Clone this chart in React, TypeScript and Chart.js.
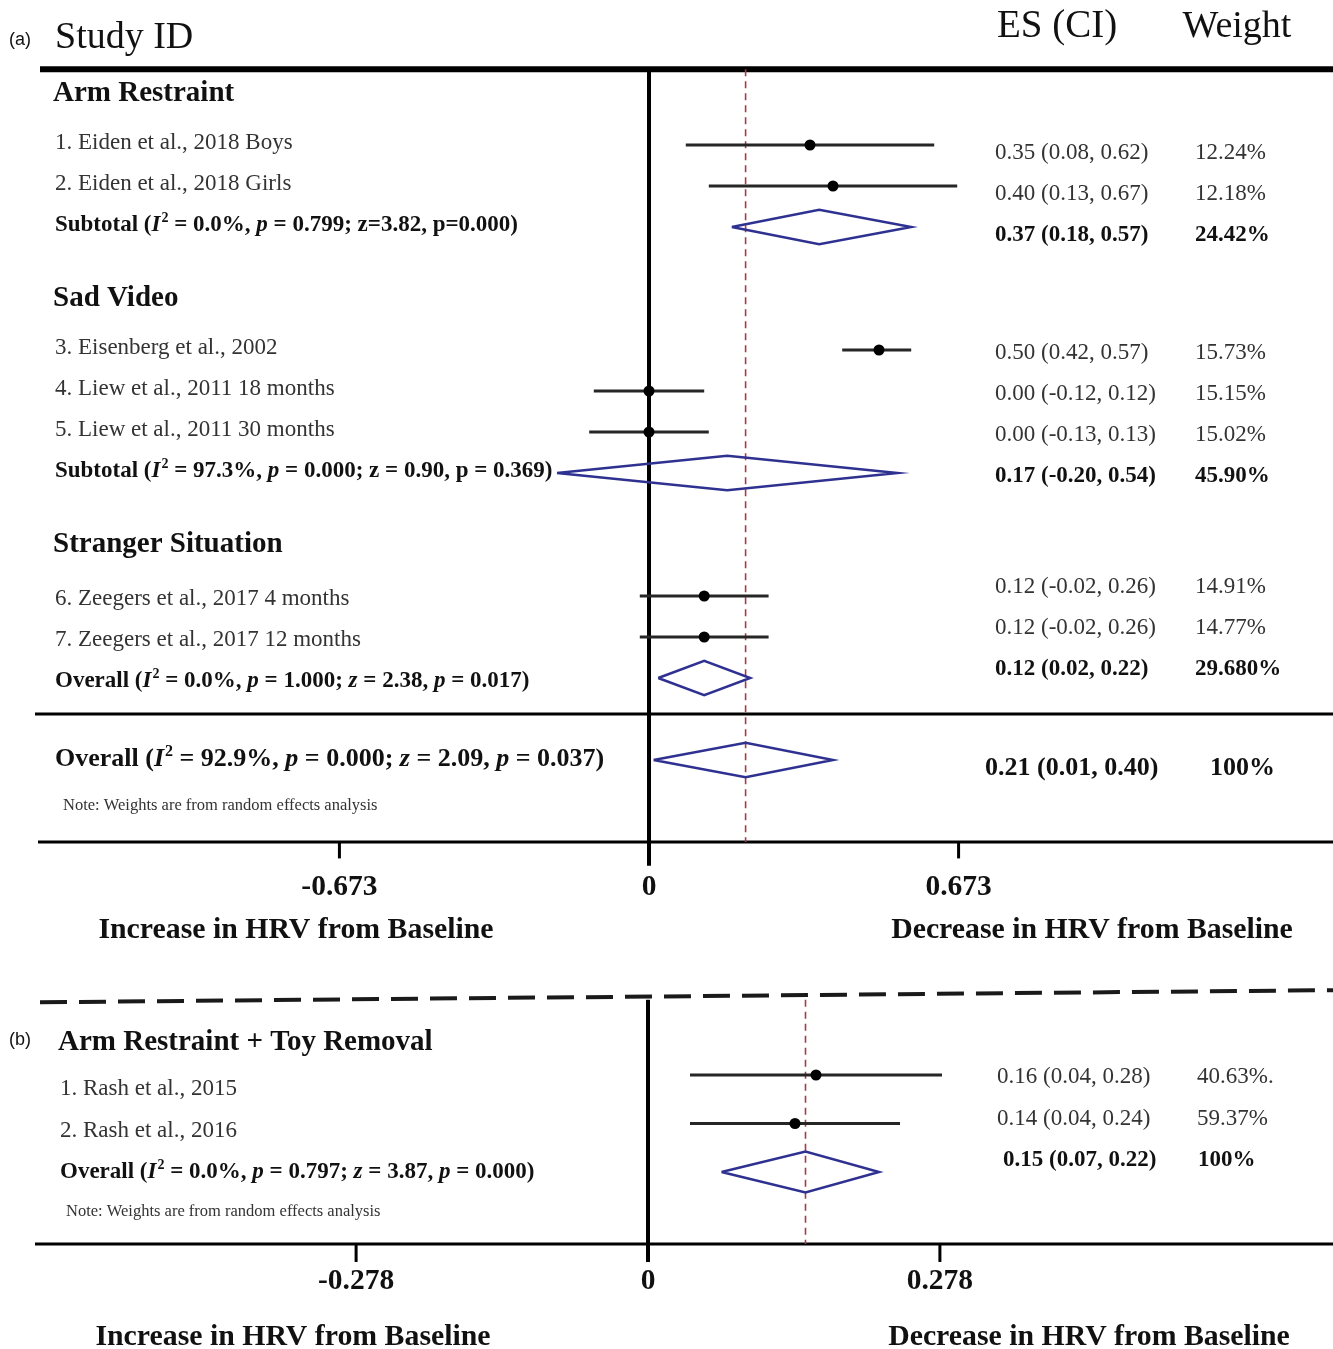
import { useEffect, useRef } from 'react';
import { Chart, registerables } from 'chart.js';

Chart.register(...registerables);

// ---------- Panel (a): HRV change by stressor paradigm ----------
const groupNamesA = ['Arm Restraint', 'Sad Video', 'Stranger Situation'];
const studyLabelsA = [
  '1. Eiden et al., 2018 Boys',
  '2. Eiden et al., 2018 Girls',
  '3. Eisenberg et al., 2002',
  '4. Liew et al., 2011 18 months',
  '5. Liew et al., 2011 30 months',
  '6. Zeegers et al., 2017 4 months',
  '7. Zeegers et al., 2017 12 months',
];
const studyGroupA = [0, 0, 1, 1, 1, 2, 2];
const studyEsA = [0.35, 0.4, 0.5, 0.0, 0.0, 0.12, 0.12];
const studyLowA = [0.08, 0.13, 0.42, -0.12, -0.13, -0.02, -0.02];
const studyHighA = [0.62, 0.67, 0.57, 0.12, 0.13, 0.26, 0.26];
const studyWeightA = ['12.24%', '12.18%', '15.73%', '15.15%', '15.02%', '14.91%', '14.77%'];

const groupEsA = [0.37, 0.17, 0.12];
const groupLowA = [0.18, -0.2, 0.02];
const groupHighA = [0.57, 0.54, 0.22];
const groupWeightA = ['24.42%', '45.90%', '29.680%'];
// '*' toggles italic, '^' raises the next character
const groupStatsA = [
  'Subtotal (*I*^2 = 0.0%, *p* = 0.799; z=3.82, p=0.000)',
  'Subtotal (*I*^2 = 97.3%, *p* = 0.000; z = 0.90, p = 0.369)',
  'Overall (*I*^2 = 0.0%, *p* = 1.000; *z* = 2.38, *p* = 0.017)',
];

const overallEsA = 0.21;
const overallLowA = 0.01;
const overallHighA = 0.4;
const overallWeightA = '100%';
const overallStatsA = 'Overall (*I*^2 = 92.9%, *p* = 0.000; *z* = 2.09, *p* = 0.037)';
const ticksA = [-0.673, 0, 0.673];

// ---------- Panel (b): arm restraint + toy removal ----------
const groupNameB = 'Arm Restraint + Toy Removal';
const studyLabelsB = ['1. Rash et al., 2015', '2. Rash et al., 2016'];
const studyEsB = [0.16, 0.14];
const studyLowB = [0.04, 0.04];
const studyHighB = [0.28, 0.24];
const studyWeightB = ['40.63%.', '59.37%'];
const overallEsB = 0.15;
const overallLowB = 0.07;
const overallHighB = 0.22;
const overallWeightB = '100%';
const overallStatsB = 'Overall (*I*^2 = 0.0%, *p* = 0.797; *z* = 3.87, *p* = 0.000)';
const ticksB = [-0.278, 0, 0.278];

const noteText = 'Note: Weights are from random effects analysis';
const leftTitle = 'Increase in HRV from Baseline';
const rightTitle = 'Decrease in HRV from Baseline';

// ---------- layout ----------
const W = 1333;
const H = 1349;
const A_ZERO_PX = 649;
const A_UNIT_PX = 460;
const A_ROW1_PX = 145;
const A_ROW_PX = 41;
const B_ZERO_PX = 648;
const B_UNIT_PX = 1050;
const B_ROW1_PX = 1075;
const B_ROW_PX = 48.5;

const SERIF = '"Liberation Serif", "Times New Roman", serif';
const SANS = '"Liberation Sans", Arial, sans-serif';
const CI_COLOR = '#262626';
const DIAMOND_COLOR = '#2f3191';
const REF_COLOR = '#a83a48';
const TEXT_GREY = '#333333';
const TEXT_DARK = '#111111';

// row positions for panel (a): heading, studies, subtotal, then a gap
const studyRowA: number[] = [];
const headingRowA: number[] = [];
const subtotalRowA: number[] = [];
(() => {
  let r = 1;
  groupNamesA.forEach((_, g) => {
    headingRowA[g] = r - 1.3;
    studyGroupA.forEach((gg, i) => {
      if (gg === g) studyRowA[i] = r++;
    });
    subtotalRowA[g] = r;
    r += 3;
  });
})();
const overallRowA = subtotalRowA[subtotalRowA.length - 1] + 2;
const topRuleRowA = -0.85;
const midRuleRowA = subtotalRowA[subtotalRowA.length - 1] + 0.88;
const axisRowA = overallRowA + 2;
const labelShiftA = [-0.05, -0.05, 0.08];
const esShiftA = [0.2, 0.07, -0.22];

const studyRowB = studyLabelsB.map((_, i) => i + 1);
const overallRowB = studyRowB.length + 1;
const axisRowB = 4.485;
const topRowB = -0.55;
const labelShiftB = [0.29, 0.15, 0];
const esShiftB = [0.04, -0.09, -0.25];

const DIAMOND_HALF = 0.42;
const TXT = 23;

function ciString(es: number, lo: number, hi: number) {
  return `${es.toFixed(2)} (${lo.toFixed(2)}, ${hi.toFixed(2)})`;
}

function diamond(es: number, lo: number, hi: number, row: number) {
  return [
    { x: lo, y: row },
    { x: es, y: row - DIAMOND_HALF },
    { x: hi, y: row },
    { x: es, y: row + DIAMOND_HALF },
    { x: lo, y: row },
  ];
}

function buildDatasets() {
  const ds: any[] = [];
  const seg = (data: any[], xAxisID: string, yAxisID: string, color: string, width: number, order: number, dash: number[] = []) => ({
    data,
    xAxisID,
    yAxisID,
    showLine: true,
    borderColor: color,
    borderWidth: width,
    borderDash: dash,
    borderJoinStyle: 'miter',
    pointRadius: 0,
    fill: false,
    tension: 0,
    order,
  });
  const dots = (data: any[], xAxisID: string, yAxisID: string) => ({
    data,
    xAxisID,
    yAxisID,
    pointStyle: 'circle',
    pointRadius: 5.5,
    backgroundColor: '#000',
    borderColor: '#000',
    borderWidth: 0,
    order: 0,
  });

  // point estimates
  ds.push(dots(studyEsA.map((v, i) => ({ x: v, y: studyRowA[i] })), 'xa', 'ya'));
  ds.push(dots(studyEsB.map((v, i) => ({ x: v, y: studyRowB[i] })), 'xb', 'yb'));

  // pooled diamonds
  groupEsA.forEach((es, g) => {
    ds.push(seg(diamond(es, groupLowA[g], groupHighA[g], subtotalRowA[g]), 'xa', 'ya', DIAMOND_COLOR, 2.5, 1));
  });
  ds.push(seg(diamond(overallEsA, overallLowA, overallHighA, overallRowA), 'xa', 'ya', DIAMOND_COLOR, 2.5, 1));
  ds.push(seg(diamond(overallEsB, overallLowB, overallHighB, overallRowB), 'xb', 'yb', DIAMOND_COLOR, 2.5, 1));

  // confidence intervals
  studyEsA.forEach((_, i) => {
    ds.push(seg([{ x: studyLowA[i], y: studyRowA[i] }, { x: studyHighA[i], y: studyRowA[i] }], 'xa', 'ya', CI_COLOR, 3, 2));
  });
  studyEsB.forEach((_, i) => {
    ds.push(seg([{ x: studyLowB[i], y: studyRowB[i] }, { x: studyHighB[i], y: studyRowB[i] }], 'xb', 'yb', CI_COLOR, 3, 2));
  });

  // overall effect reference lines
  ds.push(seg([{ x: overallEsA, y: topRuleRowA }, { x: overallEsA, y: axisRowA }], 'xa', 'ya', REF_COLOR, 1.6, 3, [7, 5]));
  ds.push(seg([{ x: overallEsB, y: topRowB }, { x: overallEsB, y: axisRowB }], 'xb', 'yb', REF_COLOR, 1.6, 3, [7, 5]));

  // no-effect lines
  ds.push(seg([{ x: 0, y: topRuleRowA }, { x: 0, y: axisRowA + 0.58 }], 'xa', 'ya', '#000', 4, 4));
  ds.push(seg([{ x: 0, y: topRowB }, { x: 0, y: axisRowB + 0.37 }], 'xb', 'yb', '#000', 4, 4));
  return ds;
}

function setFont(ctx: CanvasRenderingContext2D, size: number, bold = false, italic = false, family = SERIF) {
  ctx.font = `${italic ? 'italic ' : ''}${bold ? 'bold ' : ''}${size}px ${family}`;
}

function text(ctx: CanvasRenderingContext2D, s: string, x: number, y: number, size: number, opts: any = {}) {
  setFont(ctx, size, !!opts.bold, !!opts.italic, opts.family || SERIF);
  ctx.fillStyle = opts.color || TEXT_DARK;
  ctx.textAlign = opts.align || 'left';
  ctx.textBaseline = 'middle';
  ctx.fillText(s, x, y);
}

function rich(ctx: CanvasRenderingContext2D, markup: string, x: number, y: number, size: number, color = TEXT_DARK) {
  ctx.fillStyle = color;
  ctx.textAlign = 'left';
  ctx.textBaseline = 'middle';
  let italic = false;
  let cx = x;
  let buf = '';
  const flush = () => {
    if (!buf) return;
    setFont(ctx, size, true, italic);
    ctx.fillText(buf, cx, y);
    cx += ctx.measureText(buf).width;
    buf = '';
  };
  for (let i = 0; i < markup.length; i++) {
    const ch = markup[i];
    if (ch === '*') {
      flush();
      italic = !italic;
    } else if (ch === '^') {
      flush();
      const sup = markup[++i];
      setFont(ctx, Math.round(size * 0.6), true);
      ctx.fillText(sup, cx + 1, y - size * 0.3);
      cx += ctx.measureText(sup).width + 1;
    } else {
      buf += ch;
    }
  }
  flush();
}

function hline(ctx: CanvasRenderingContext2D, x1: number, x2: number, y: number, width: number) {
  ctx.beginPath();
  ctx.lineWidth = width;
  ctx.strokeStyle = '#000';
  ctx.setLineDash([]);
  ctx.moveTo(x1, y);
  ctx.lineTo(x2, y);
  ctx.stroke();
}

const forestDecor = {
  id: 'forestDecor',
  beforeDatasetsDraw(chart: any) {
    const { ctx } = chart;
    const { xa, ya, xb, yb } = chart.scales;
    const right = W;
    ctx.save();
    // panel (a) frame rules and axis
    hline(ctx, 40, right, ya.getPixelForValue(topRuleRowA), 6);
    hline(ctx, 35, right, ya.getPixelForValue(midRuleRowA), 3);
    const axA = ya.getPixelForValue(axisRowA);
    hline(ctx, 38, right, axA, 3);
    ticksA.forEach((t) => {
      if (t === 0) return;
      const px = xa.getPixelForValue(t);
      ctx.beginPath();
      ctx.lineWidth = 3;
      ctx.moveTo(px, axA);
      ctx.lineTo(px, ya.getPixelForValue(axisRowA + 0.4));
      ctx.stroke();
    });
    // separator between panels
    ctx.beginPath();
    ctx.lineWidth = 4;
    ctx.strokeStyle = '#1a1a1a';
    ctx.setLineDash([27, 12]);
    ctx.moveTo(40, yb.getPixelForValue(topRowB + 0.05));
    ctx.lineTo(1333, yb.getPixelForValue(topRowB - 0.2));
    ctx.stroke();
    ctx.setLineDash([]);
    // panel (b) axis
    const axB = yb.getPixelForValue(axisRowB);
    hline(ctx, 35, right, axB, 3);
    ticksB.forEach((t) => {
      if (t === 0) return;
      const px = xb.getPixelForValue(t);
      ctx.beginPath();
      ctx.lineWidth = 3;
      ctx.moveTo(px, axB);
      ctx.lineTo(px, yb.getPixelForValue(axisRowB + 0.37));
      ctx.stroke();
    });
    ctx.restore();
  },
  afterDatasetsDraw(chart: any) {
    const { ctx } = chart;
    const { xa, ya, xb, yb } = chart.scales;
    ctx.save();
    const Y = (r: number) => ya.getPixelForValue(r);
    const YB = (r: number) => yb.getPixelForValue(r);

    // panel (a) header
    text(ctx, '(a)', 9, Y(-1.55), 18, { family: SANS });
    text(ctx, 'Study ID', 55, Y(-1.6), 38);
    text(ctx, 'ES (CI)', 1057, Y(-1.88), 39, { align: 'center' });
    text(ctx, 'Weight', 1237, Y(-1.88), 38, { align: 'center' });

    groupNamesA.forEach((name, g) => {
      text(ctx, name, 53, Y(headingRowA[g] + 0.05), 29, { bold: true });
      rich(ctx, groupStatsA[g], 55, Y(subtotalRowA[g] + labelShiftA[g]), TXT);
      const ey = Y(subtotalRowA[g] + esShiftA[g]);
      text(ctx, ciString(groupEsA[g], groupLowA[g], groupHighA[g]), 995, ey, TXT, { bold: true });
      text(ctx, groupWeightA[g], 1195, ey, TXT, { bold: true });
    });
    studyLabelsA.forEach((label, i) => {
      const r = studyRowA[i];
      const g = studyGroupA[i];
      text(ctx, label, 55, Y(r + labelShiftA[g]), TXT, { color: TEXT_GREY });
      const ey = Y(r + esShiftA[g]);
      text(ctx, ciString(studyEsA[i], studyLowA[i], studyHighA[i]), 995, ey, TXT, { color: TEXT_GREY });
      text(ctx, studyWeightA[i], 1195, ey, TXT, { color: TEXT_GREY });
    });
    rich(ctx, overallStatsA, 55, Y(overallRowA - 0.02), 26);
    text(ctx, ciString(overallEsA, overallLowA, overallHighA), 985, Y(overallRowA + 0.2), 26, { bold: true });
    text(ctx, overallWeightA, 1210, Y(overallRowA + 0.2), 26, { bold: true });
    text(ctx, noteText, 63, Y(overallRowA + 1.12), 16.5, { color: TEXT_GREY });

    ticksA.forEach((t) => {
      text(ctx, String(t), xa.getPixelForValue(t), Y(axisRowA + 1.1), 29.5, { bold: true, align: 'center' });
    });
    text(ctx, leftTitle, 296, Y(axisRowA + 2.15), 29.8, { bold: true, align: 'center' });
    text(ctx, rightTitle, 1092, Y(axisRowA + 2.15), 29.8, { bold: true, align: 'center' });

    // panel (b)
    text(ctx, '(b)', 9, YB(0.28), 18, { family: SANS });
    text(ctx, groupNameB, 58, YB(0.34), 29, { bold: true });
    studyLabelsB.forEach((label, i) => {
      const r = studyRowB[i];
      text(ctx, label, 60, YB(r + labelShiftB[i]), TXT, { color: TEXT_GREY });
      const ey = YB(r + esShiftB[i]);
      text(ctx, ciString(studyEsB[i], studyLowB[i], studyHighB[i]), 997, ey, TXT, { color: TEXT_GREY });
      text(ctx, studyWeightB[i], 1197, ey, TXT, { color: TEXT_GREY });
    });
    rich(ctx, overallStatsB, 60, YB(overallRowB + labelShiftB[2]), TXT);
    const eyB = YB(overallRowB + esShiftB[2]);
    text(ctx, ciString(overallEsB, overallLowB, overallHighB), 1003, eyB, TXT, { bold: true });
    text(ctx, overallWeightB, 1198, eyB, TXT, { bold: true });
    text(ctx, noteText, 66, YB(overallRowB + 0.82), 16.5, { color: TEXT_GREY });

    ticksB.forEach((t) => {
      text(ctx, String(t), xb.getPixelForValue(t), YB(axisRowB + 0.78), 29.5, { bold: true, align: 'center' });
    });
    text(ctx, leftTitle, 293, YB(axisRowB + 1.92), 29.8, { bold: true, align: 'center' });
    text(ctx, rightTitle, 1089, YB(axisRowB + 1.92), 29.8, { bold: true, align: 'center' });
    ctx.restore();
  },
};

export default function App() {
  const canvasRef = useRef<HTMLCanvasElement>(null);

  useEffect(() => {
    const canvas = canvasRef.current;
    if (!canvas) return;
    const chart = new Chart(canvas, {
      type: 'scatter',
      data: { datasets: buildDatasets() },
      options: {
        animation: false,
        responsive: false,
        devicePixelRatio: 1,
        events: [],
        layout: { padding: 0, autoPadding: false },
        plugins: {
          legend: { display: false },
          tooltip: { enabled: false },
          title: { display: false },
        },
        scales: {
          xa: {
            axis: 'x',
            type: 'linear',
            display: false,
            bounds: 'data',
            min: -A_ZERO_PX / A_UNIT_PX,
            max: (W - A_ZERO_PX) / A_UNIT_PX,
          },
          ya: {
            axis: 'y',
            type: 'linear',
            display: false,
            bounds: 'data',
            reverse: true,
            min: 1 - A_ROW1_PX / A_ROW_PX,
            max: 1 + (H - A_ROW1_PX) / A_ROW_PX,
          },
          xb: {
            axis: 'x',
            type: 'linear',
            display: false,
            bounds: 'data',
            min: -B_ZERO_PX / B_UNIT_PX,
            max: (W - B_ZERO_PX) / B_UNIT_PX,
          },
          yb: {
            axis: 'y',
            type: 'linear',
            display: false,
            bounds: 'data',
            reverse: true,
            min: 1 - B_ROW1_PX / B_ROW_PX,
            max: 1 + (H - B_ROW1_PX) / B_ROW_PX,
          },
        },
      } as any,
      plugins: [forestDecor],
    });
    return () => chart.destroy();
  }, []);

  return (
    <div style={{ position: 'absolute', left: 0, top: 0, width: W, height: H, background: '#fff' }}>
      <canvas ref={canvasRef} width={W} height={H} style={{ display: 'block', width: W, height: H }} />
    </div>
  );
}
